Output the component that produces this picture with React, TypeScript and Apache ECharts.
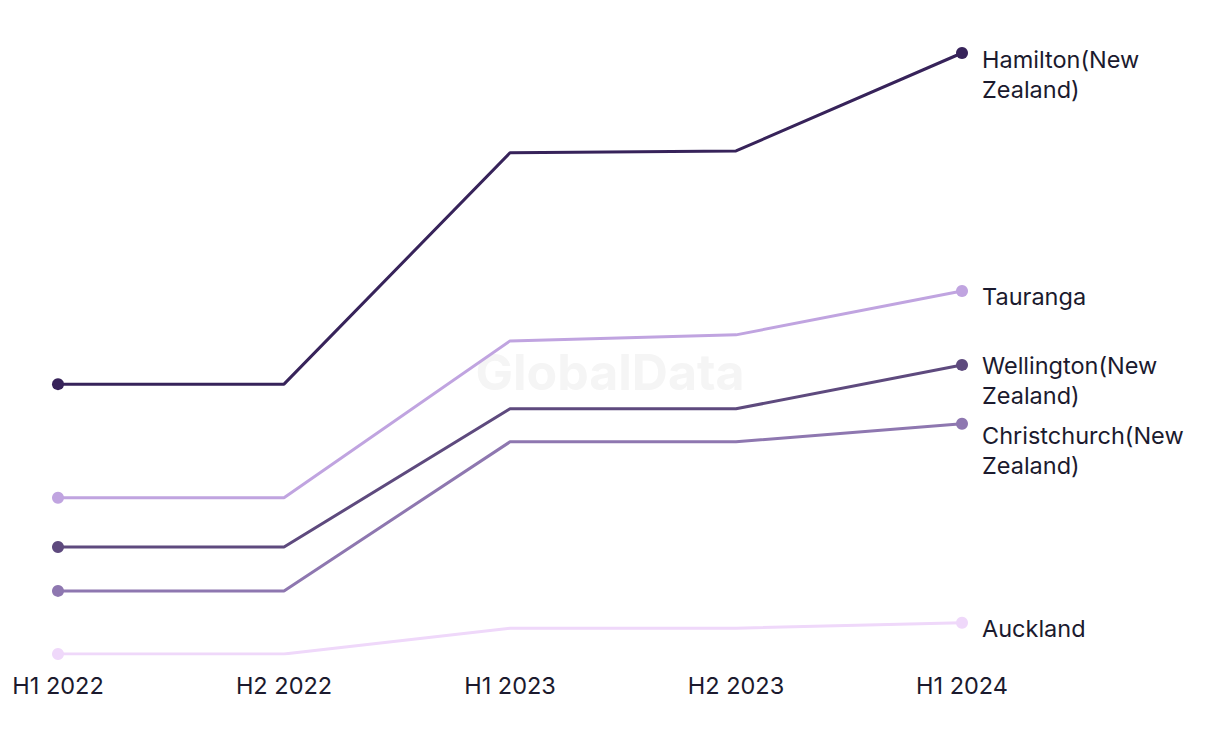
import React, { useEffect, useRef } from "react";
import * as echarts from "echarts";

const categories = ["H1 2022", "H2 2022", "H1 2023", "H2 2023", "H1 2024"];
const seriesNames = [
  "Hamilton(New\nZealand)",
  "Tauranga",
  "Wellington(New\nZealand)",
  "Christchurch(New\nZealand)",
  "Auckland",
];
const hamilton = [44.9, 44.9, 83.4, 83.7, 100];
const tauranga = [26.0, 26.0, 52.1, 53.1, 60.4];
const wellington = [17.8, 17.8, 40.8, 40.8, 48.1];
const christchurch = [10.5, 10.5, 35.3, 35.3, 38.3];
const auckland = [0, 0, 4.3, 4.3, 5.2];
const colors = ["#37235a", "#c0a4e0", "#5e4a7e", "#8e77b0", "#efd8fa"];
const labelOffsetsY = [-9, -9, -14, -3, -9];

const FONT = "Inter, 'Noto Sans', sans-serif";

export default function App() {
  const ref = useRef<HTMLDivElement>(null);
  useEffect(() => {
    const chart = echarts.init(ref.current!, undefined, { renderer: "svg" });
    const all = [hamilton, tauranga, wellington, christchurch, auckland];
    const series = all.map((vals, i) => ({
      type: "line",
      name: seriesNames[i],
      z: 10 - i,
      data: vals.map((v, j) => ({
        value: v,
        symbol: j === 0 || j === vals.length - 1 ? "circle" : "none",
      })),
      symbolSize: 12,
      showAllSymbol: true,
      lineStyle: { color: colors[i], width: 3 },
      itemStyle: { color: colors[i] },
      endLabel: {
        show: true,
        formatter: seriesNames[i],
        color: "#1b1a2e",
        fontSize: 23.5,
        fontFamily: FONT,
        lineHeight: 30,
        verticalAlign: "top",
        distance: 20,
        offset: [0, labelOffsetsY[i]],
      },
      emphasis: { disabled: true },
    }));
    chart.setOption({
      animation: false,
      backgroundColor: "#ffffff",
      grid: { left: 58, right: 258, top: 53, bottom: 90 },
      graphic: [
        {
          type: "text",
          left: "center",
          top: 347,
          z: 0,
          style: {
            text: "GlobalData",
            fill: "#f5f5f5",
            fontSize: 50,
            fontWeight: "bold",
            fontFamily: FONT,
          },
        },
      ],
      xAxis: {
        type: "category",
        data: categories,
        boundaryGap: false,
        axisLine: { show: false },
        axisTick: { show: false },
        splitLine: { show: false },
        axisLabel: {
          color: "#1b1a2e",
          fontSize: 23.5,
          fontFamily: FONT,
          margin: 19,
        },
      },
      yAxis: {
        type: "value",
        min: 0,
        max: 100,
        show: false,
        splitLine: { show: false },
      },
      series,
    });
    return () => chart.dispose();
  }, []);
  return <div ref={ref} style={{ width: 1220, height: 744, margin: -8 }} />;
}
